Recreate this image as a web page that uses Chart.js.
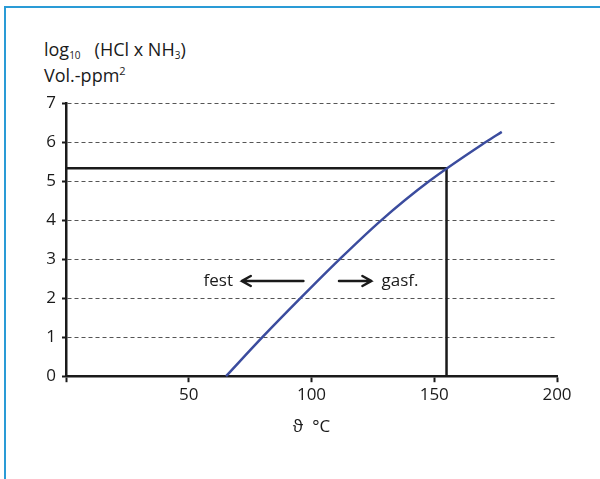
<!DOCTYPE html>
<html>
<head>
<meta charset="utf-8">
<script src="https://cdn.jsdelivr.net/npm/chart.js@4"></script>
<style>
  body { margin: 0; background: #fff; }
  #wrap { position: relative; width: 600px; height: 479px; overflow: hidden; }
  #frame { position: absolute; left: 4px; top: 6px; width: 600px; height: 480px;
           border-left: 2px solid #2a9bd6; border-top: 2px solid #2a9bd6; }
  #ytitle { position: absolute; left: 44px; top: 36px; font-family: "Open Sans", sans-serif;
            font-size: 18px; line-height: 26px; color: #1a1a1a; }
  #ytitle sub { font-size: 10px; vertical-align: -3px; line-height: 0; }
  #ytitle sup { font-size: 11px; vertical-align: 7px; line-height: 0; }
  canvas { position: absolute; left: 0; top: 0; }
</style>
</head>
<body>
<div id="wrap">
  <div id="frame"></div>
  <div id="ytitle">log<sub>10</sub>&nbsp;&nbsp; (HCl x NH<sub>3</sub>)<br>Vol.-ppm<sup>2</sup></div>
  <canvas id="chart" width="600" height="479"></canvas>
</div>
<script>
// curve: temperature (°C) vs log10(HCl x NH3)
const tempC = [65.2, 80, 95.5, 111.5, 128.5, 148, 171, 177.5]
const logProduct = [0, 1, 2, 3, 4, 5, 6, 6.26]

// marked point (vertical + horizontal guide)
const markX = 155
const markY = 5.33

// arrow annotations
const arrowY = 2.44
const arrowStart = [96.7, 111.2]
const arrowEnd = [71.6, 124.4]
const arrowLabels = ['fest', 'gasf.']
const labelX = [68, 128.5]

const black = '#1a1a1a'
const font = { family: '"Open Sans", sans-serif', size: 17 }

const arrows = {
    id: 'arrows',
    afterDatasetsDraw(chart) {
        const { ctx, scales: { x, y } } = chart
        const py = y.getPixelForValue(arrowY)
        ctx.save()
        ctx.strokeStyle = black
        ctx.lineWidth = 2.5
        ctx.lineCap = 'round'
        for (let i = 0; i < arrowStart.length; i++) {
            const x1 = x.getPixelForValue(arrowStart[i])
            const x2 = x.getPixelForValue(arrowEnd[i])
            const dir = x2 > x1 ? 1 : -1
            ctx.beginPath()
            ctx.moveTo(x1, py)
            ctx.lineTo(x2, py)
            ctx.moveTo(x2 - dir * 9, py - 5)
            ctx.lineTo(x2, py)
            ctx.lineTo(x2 - dir * 9, py + 5)
            ctx.stroke()
        }
        ctx.fillStyle = black
        ctx.font = font.size + 'px ' + font.family
        ctx.textBaseline = 'middle'
        ctx.textAlign = 'right'
        ctx.fillText(arrowLabels[0], x.getPixelForValue(labelX[0]), py)
        ctx.textAlign = 'left'
        ctx.fillText(arrowLabels[1], x.getPixelForValue(labelX[1]), py)
        ctx.restore()
    }
}

new Chart(document.getElementById('chart'), {
    type: 'scatter',
    data: {
        datasets: [
            {
                data: tempC.map((t, i) => ({ x: t, y: logProduct[i] })),
                showLine: true,
                borderColor: '#3b4c9e',
                borderWidth: 2.5,
                pointRadius: 0,
                cubicInterpolationMode: 'monotone',
                clip: false
            },
            {
                data: [{ x: 0, y: markY }, { x: markX, y: markY }, { x: markX, y: 0 }],
                showLine: true,
                borderColor: black,
                borderWidth: 2.5,
                pointRadius: 0,
                clip: false
            }
        ]
    },
    options: {
        responsive: false,
        animation: false,
        layout: { padding: { left: 0, top: 103, right: 43, bottom: 42 } },
        plugins: {
            legend: { display: false },
            tooltip: { enabled: false }
        },
        scales: {
            x: {
                type: 'linear',
                min: 0,
                max: 200,
                ticks: {
                    stepSize: 50,
                    color: black,
                    font: font,
                    padding: 3,
                    maxRotation: 0,
                    callback: v => v === 0 ? '' : v
                },
                grid: {
                    drawOnChartArea: false,
                    tickLength: 6,
                    tickColor: black,
                    tickWidth: 2
                },
                border: { color: black, width: 2.5 },
                title: {
                    display: true,
                    text: 'ϑ  °C',
                    color: black,
                    font: font,
                    padding: { top: 8, bottom: 0 }
                }
            },
            y: {
                min: 0,
                max: 7,
                ticks: { stepSize: 1, color: black, font: font, padding: 6 },
                grid: {
                    color: ctx => ctx.tick && ctx.tick.value === 0 ? 'rgba(0,0,0,0)' : '#555',
                    lineWidth: 1,
                    tickLength: 4,
                    tickColor: black,
                    tickWidth: 2
                },
                border: { color: black, width: 2.5, dash: [4, 3] },
                afterFit(scale) { scale.width = 66 }
            }
        }
    },
    plugins: [arrows]
})
</script>
</body>
</html>
